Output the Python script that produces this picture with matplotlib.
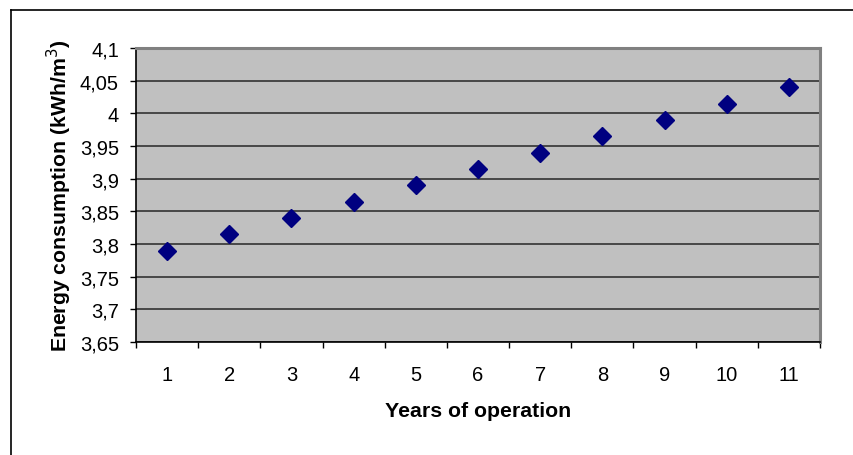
import matplotlib
matplotlib.use("Agg")
import matplotlib.pyplot as plt
from matplotlib.lines import Line2D

years = [1, 2, 3, 4, 5, 6, 7, 8, 9, 10, 11]
energy = [3.79, 3.815, 3.84, 3.865, 3.89, 3.915, 3.94, 3.965, 3.99, 4.015, 4.04]
yticks = [3.65, 3.7, 3.75, 3.8, 3.85, 3.9, 3.95, 4.0, 4.05, 4.1]
ytick_labels = ["3,65", "3,7", "3,75", "3,8", "3,85", "3,9", "3,95", "4", "4,05", "4,1"]

plt.rcParams['font.family'] = ['Liberation Sans', 'DejaVu Sans']

W, H = 854, 456
fig = plt.figure(figsize=(W / 100, H / 100), dpi=100)
fig.patch.set_facecolor('white')

left, top, right, bottom = 136, 49, 820, 343
ax = fig.add_axes([left / W, 1 - bottom / H, (right - left) / W, (bottom - top) / H])
ax.set_facecolor('#c0c0c0')

pos = list(range(len(years)))
ax.plot(pos, energy, linestyle='none', marker='D', markersize=9,
        color='#000080', zorder=3)

ax.set_xlim(-0.5, len(years) - 0.5)
ax.set_ylim(3.65, 4.1)
ax.set_yticks(yticks)
ax.set_yticklabels(ytick_labels, fontsize=14.5)
ax.set_xticks([p - 0.5 for p in pos] + [len(years) - 0.5])
ax.set_xticklabels([])
ax.set_xticks(pos, minor=True)
ax.set_xticklabels([str(y) for y in years], minor=True, fontsize=14.5)
ax.tick_params(axis='x', which='minor', length=0, pad=16.5)
ax.tick_params(axis='x', which='major', length=4.3, width=1, direction='out')
ax.tick_params(axis='y', length=4.3, width=1, direction='out', pad=8)

ax.grid(axis='y', color='#333333', linewidth=1.2)
ax.set_axisbelow(True)

for s in ['top', 'right']:
    ax.spines[s].set_color('#808080')
    ax.spines[s].set_linewidth(2.2)
for s in ['left', 'bottom']:
    ax.spines[s].set_color('black')
    ax.spines[s].set_linewidth(1.2)

ax.set_ylabel('Energy consumption (kWh/m$^3$)', fontsize=15.3, fontweight='bold', labelpad=4)
ax.set_xlabel('Years of operation', fontsize=15.3, fontweight='bold', labelpad=12)

# outer chart border (top and left visible)
fig.add_artist(Line2D([11 / W, 11 / W], [0, 1 - 11 / H], transform=fig.transFigure,
                      color='black', linewidth=1.2))
fig.add_artist(Line2D([11 / W, 1], [1 - 11 / H, 1 - 11 / H], transform=fig.transFigure,
                      color='black', linewidth=1.2))

fig.savefig('out.png', dpi=100)
